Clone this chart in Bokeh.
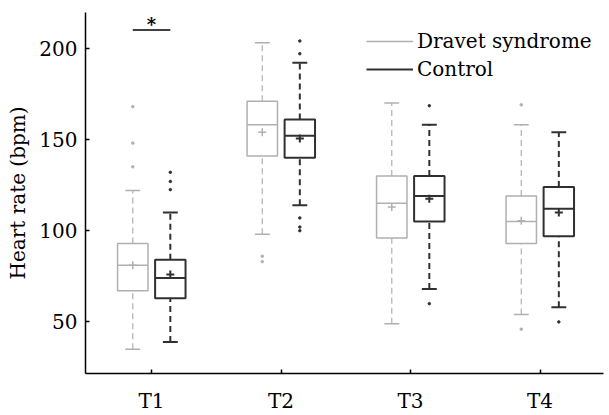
from bokeh.plotting import figure
from bokeh.models import Range1d, FixedTicker, Legend, LegendItem
from bokeh.core.properties import value
from bokeh.embed import file_html
from bokeh.resources import INLINE

# ---- data ----
times = ["T1", "T2", "T3", "T4"]

ds_lo = [35, 98, 49, 54]
ds_q1 = [67, 141, 96, 93]
ds_med = [81, 158, 115, 105]
ds_q3 = [93, 171, 130, 119]
ds_hi = [122, 203, 170, 158]
ds_mean = [81, 154, 113, 105.5]
ds_out_t = [1, 1, 1, 2, 2, 4, 4]
ds_out_v = [168, 148, 135, 86, 83, 169, 46]

ct_lo = [39, 114, 68, 58]
ct_q1 = [63, 140, 105, 97]
ct_med = [74, 152, 119, 112]
ct_q3 = [84, 161, 130, 124]
ct_hi = [110, 192, 158, 154]
ct_mean = [76, 150.5, 117.5, 110]
ct_out_t = [1, 1, 1, 2, 2, 2, 2, 2, 3, 3, 4]
ct_out_v = [132, 127, 122.5, 204, 197, 107, 102, 100, 168.5, 60, 50]

sig_value = 210
y_ticks = [50, 100, 150, 200]

# ---- styling ----
FONT = "DejaVu Serif"
DS_COL = "#b0b0b0"
CT_COL = "#303030"
OFF = 0.145
BW = 0.235
CW = 0.115

p = figure(width=609, height=415, output_backend="svg", toolbar_location=None,
           x_range=Range1d(0.49, 4.49), y_range=Range1d(21.7, 219.6),
           min_border_left=85, min_border_top=12, min_border_right=6, min_border_bottom=39)
p.outline_line_color = None
p.xgrid.visible = False
p.ygrid.visible = False
p.background_fill_color = "white"


def draw_group(lo, q1, med, q3, hi, mean, out_t, out_v, off, col, lw, wlw):
    xs = [i + 1 + off for i in range(len(lo))]
    # whiskers
    p.segment(x0=xs, y0=q3, x1=xs, y1=hi, line_color=col, line_width=wlw, line_dash="6 4")
    p.segment(x0=xs, y0=lo, x1=xs, y1=q1, line_color=col, line_width=wlw, line_dash="6 4")
    # caps
    p.segment(x0=[x - CW / 2 for x in xs], y0=hi, x1=[x + CW / 2 for x in xs], y1=hi,
              line_color=col, line_width=lw)
    p.segment(x0=[x - CW / 2 for x in xs], y0=lo, x1=[x + CW / 2 for x in xs], y1=lo,
              line_color=col, line_width=lw)
    # box
    p.quad(left=[x - BW / 2 for x in xs], right=[x + BW / 2 for x in xs], bottom=q1, top=q3,
           fill_color="white", line_color=col, line_width=lw)
    # median
    r = p.segment(x0=[x - BW / 2 for x in xs], y0=med, x1=[x + BW / 2 for x in xs], y1=med,
                  line_color=col, line_width=lw)
    # mean
    p.scatter(x=xs, y=mean, marker="cross", size=8, line_color=col, line_width=lw)
    # outliers
    p.scatter(x=[t + off for t in out_t], y=out_v, marker="circle", size=2.5,
              fill_color=col, line_color=col)
    return r


r_ds = draw_group(ds_lo, ds_q1, ds_med, ds_q3, ds_hi, ds_mean, ds_out_t, ds_out_v,
                  -OFF, DS_COL, 1.5, 1.2)
r_ct = draw_group(ct_lo, ct_q1, ct_med, ct_q3, ct_hi, ct_mean, ct_out_t, ct_out_v,
                  OFF, CT_COL, 2, 2)

# significance bar
p.segment(x0=[1 - OFF], y0=[sig_value], x1=[1 + OFF], y1=[sig_value], line_color="black",
          line_width=1.5)
p.text(x=[1.0], y=[sig_value + 2.8], text=["*"], text_font=value(FONT),
       text_font_size="18px", text_align="center", text_baseline="alphabetic",
       text_color="black", text_font_style="bold")

# axes
for ax in (p.xaxis[0], p.yaxis[0]):
    ax.axis_line_color = "black"
    ax.axis_line_width = 1.5
    ax.major_tick_in = 4
    ax.major_tick_out = 0
    ax.minor_tick_line_color = None
    ax.major_tick_line_color = "black"
    ax.major_tick_line_width = 1.5
    ax.major_label_text_font = FONT
    ax.major_label_text_font_size = "20px"
    ax.major_label_text_color = "black"

p.xaxis.ticker = FixedTicker(ticks=[1, 2, 3, 4])
p.xaxis.major_label_overrides = {i + 1: t for i, t in enumerate(times)}
p.xaxis.major_label_standoff = 15
p.yaxis.ticker = FixedTicker(ticks=y_ticks)
p.yaxis.major_label_standoff = 8
p.yaxis.axis_label = "Heart rate (bpm)"
p.yaxis.axis_label_text_font = FONT
p.yaxis.axis_label_text_font_size = "20px"
p.yaxis.axis_label_text_font_style = "normal"
p.yaxis.axis_label_text_color = "black"
p.yaxis.axis_label_standoff = 6

legend = Legend(items=[LegendItem(label="Dravet syndrome", renderers=[r_ds]),
                       LegendItem(label="Control", renderers=[r_ct])],
                location=(281, 290), glyph_width=47, glyph_height=28, label_height=28,
                label_standoff=4, spacing=0, padding=0, margin=0,
                label_text_font=FONT, label_text_font_size="20px",
                label_text_color="black",
                border_line_color=None, background_fill_alpha=0)
p.add_layout(legend)

open("out.html", "w").write(file_html(p, INLINE))
